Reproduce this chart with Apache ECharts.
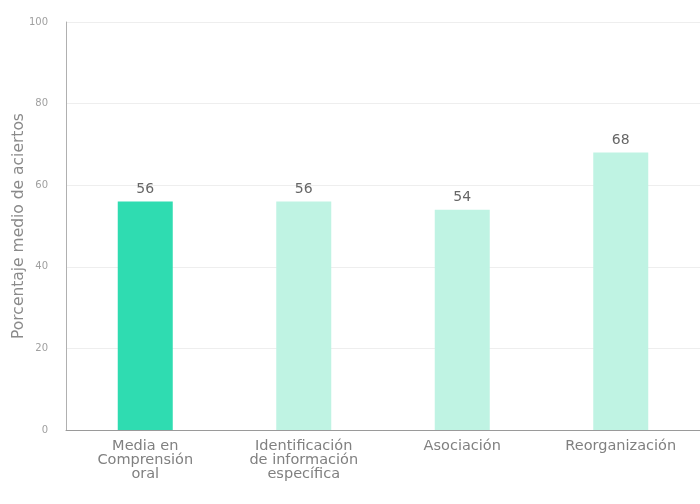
<!DOCTYPE html>
<html><head><meta charset="utf-8">
<script src="https://cdn.jsdelivr.net/npm/echarts@6/dist/echarts.min.js"></script>
<style>html,body{margin:0;padding:0;background:#fff}#c{width:700px;height:504px}</style>
</head><body><div id="c"></div>
<script>
const categories = ['Media en\nComprensión\noral', 'Identificación\nde información\nespecífica', 'Asociación', 'Reorganización'];
const values = [56, 56, 54, 68];
const barColors = ['#2fdcb1', '#bff3e3', '#bff3e3', '#bff3e3'];
const yTicks = [0, 20, 40, 60, 80, 100];
const yName = 'Porcentaje medio de aciertos';

const chart = echarts.init(document.getElementById('c'), null, {renderer: 'canvas'});
chart.setOption({
  backgroundColor: '#fff',
  textStyle: {fontFamily: 'DejaVu Sans'},
  grid: {left: 66, right: 0, top: 22, bottom: 74, containLabel: false, outerBoundsMode: 'none'},
  xAxis: {
    type: 'category', data: categories,
    axisLine: {lineStyle: {color: '#9a9a9a', width: 1}},
    axisTick: {show: false},
    axisLabel: {color: '#808080', fontSize: 14.5, lineHeight: 14, margin: 9, interval: 0, fontFamily: 'DejaVu Sans'}
  },
  yAxis: {
    type: 'value', min: yTicks[0], max: yTicks[yTicks.length - 1], interval: 20,
    name: yName, nameLocation: 'middle', nameGap: 39, nameRotate: 90, nameMoveOverlap: false,
    nameTextStyle: {color: '#8a8a8a', fontSize: 15.5, fontFamily: 'DejaVu Sans'},
    axisLine: {show: true, lineStyle: {color: '#b0b0b0'}},
    axisTick: {show: false},
    axisLabel: {color: '#a0a0a0', fontSize: 10, margin: 18},
    splitLine: {lineStyle: {color: '#eeeeee', width: 1}}
  },
  series: [{
    type: 'bar',
    barWidth: 55,
    data: values.map((v, i) => ({value: v, itemStyle: {color: barColors[i]}})),
    label: {show: true, position: 'top', distance: 5, color: '#666', fontSize: 14, fontFamily: 'DejaVu Sans'}
  }]
});
</script></body></html>
